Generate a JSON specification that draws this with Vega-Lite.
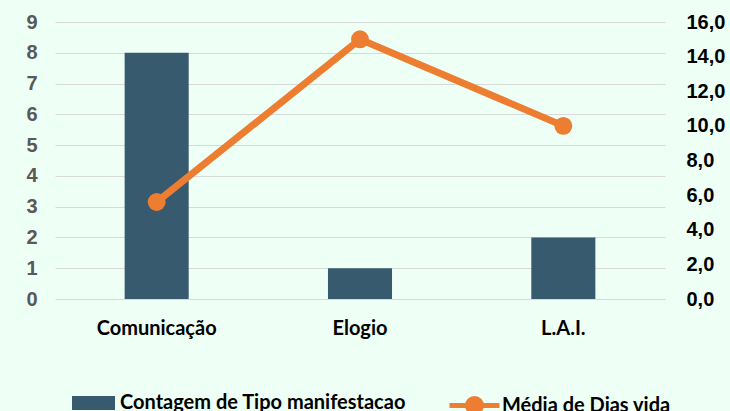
{
  "$schema": "https://vega.github.io/schema/vega-lite/v6.json",
  "width": 610,
  "height": 277,
  "autosize": {"type": "none"},
  "padding": {"left": 55, "top": 22, "right": 65, "bottom": 112},
  "background": "#eefff6",
  "config": {
    "view": {"stroke": null},
    "locale": {"number": {"decimal": ",", "thousands": ".", "grouping": [3], "currency": ["R$", ""]}}
  },
  "data": {
    "values": [
      {"cat": "Comunicação", "contagem": 8, "media": 5.6},
      {"cat": "Elogio", "contagem": 1, "media": 15.0},
      {"cat": "L.A.I.", "contagem": 2, "media": 10.0}
    ]
  },
  "encoding": {
    "x": {
      "field": "cat",
      "type": "nominal",
      "sort": null,
      "scale": {"paddingInner": 0.685, "paddingOuter": 0.3425},
      "axis": {
        "title": null,
        "labelAngle": 0,
        "domain": false,
        "ticks": false,
        "labelFont": "Lato",
        "labelFontWeight": "bold",
        "labelFontSize": 20,
        "labelColor": "#000000",
        "labelPadding": 19
      }
    }
  },
  "layer": [
    {
      "mark": {"type": "bar"},
      "encoding": {
        "y": {
          "field": "contagem",
          "type": "quantitative",
          "scale": {"domain": [0, 9], "nice": false},
          "axis": {
            "title": null,
            "values": [0, 1, 2, 3, 4, 5, 6, 7, 8, 9],
            "grid": true,
            "gridColor": "#d9d9d9",
            "domain": false,
            "ticks": false,
            "labelFont": "Liberation Sans",
            "labelFontWeight": "bold",
            "labelFontSize": 20,
            "labelColor": "#595959",
            "labelPadding": 18
          }
        },
        "fill": {
          "datum": "Contagem de Tipo manifestacao",
          "scale": {"range": ["#375a6e"]},
          "legend": {
            "title": null,
            "orient": "none",
            "legendX": 17,
            "legendY": 359.5,
            "padding": 0,
            "symbolType": "M-1,-0.33H1V0.33H-1Z",
            "symbolSize": 1849,
            "symbolStrokeWidth": 0,
            "labelFont": "Lato",
            "labelFontWeight": "bold",
            "labelFontSize": 20,
            "labelColor": "#000000",
            "labelOffset": 5,
            "labelLimit": 400
          }
        }
      }
    },
    {
      "encoding": {
        "y": {
          "field": "media",
          "type": "quantitative",
          "scale": {"domain": [0, 16], "nice": false},
          "axis": {
            "title": null,
            "orient": "right",
            "values": [0, 2, 4, 6, 8, 10, 12, 14, 16],
            "format": ".1f",
            "grid": false,
            "domain": false,
            "ticks": false,
            "labelFont": "Liberation Sans",
            "labelFontWeight": "bold",
            "labelFontSize": 20,
            "labelColor": "#000000",
            "labelPadding": 21
          }
        }
      },
      "layer": [
        {
          "mark": {"type": "line", "strokeWidth": 7},
          "encoding": {
            "stroke": {
              "datum": "Média de Dias vida",
              "scale": {"range": ["#ed7d31"]},
              "legend": {
                "title": null,
                "orient": "none",
                "legendX": 392,
                "legendY": 356,
                "padding": 0,
                "symbolType": "M-1,0H1M-0.28,0A0.28,0.28,0,1,1,0.28,0A0.28,0.28,0,1,1,-0.28,0Z",
                "symbolSize": 2500,
                "symbolStrokeWidth": 5,
                "symbolFillColor": "#ed7d31",
                "labelFont": "Lato",
                "labelFontWeight": "bold",
                "labelFontSize": 20,
                "labelColor": "#000000",
                "labelOffset": 0,
                "labelLimit": 400,
                "encode": {"symbols": {"update": {"fill": {"value": "#ed7d31"}}}}
              }
            }
          }
        },
        {
          "mark": {"type": "point", "shape": "circle", "filled": true, "size": 320, "color": "#ed7d31", "opacity": 1}
        }
      ]
    }
  ],
  "resolve": {"scale": {"y": "independent"}}
}
